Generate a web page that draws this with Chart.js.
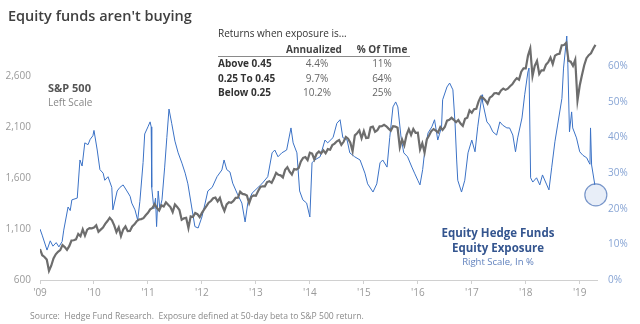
<!DOCTYPE html>
<html>
<head>
<meta charset="utf-8">
<script src="https://cdn.jsdelivr.net/npm/chart.js@4.4.1/dist/chart.umd.min.js"></script>
<style>
  html, body { margin: 0; padding: 0; background: #fff; }
  #wrap { position: relative; width: 640px; height: 324px; overflow: hidden; font-family: "Open Sans", sans-serif; }
  #c { position: absolute; left: 0; top: 0; }
  .t { position: absolute; white-space: nowrap; line-height: 13px; }
  .b { font-weight: 700; }
  .c { text-align: center; }
</style>
</head>
<body>
<div id="wrap">
  <canvas id="c" width="640" height="324"></canvas>

  <div class="t" style="left:8px;top:6px;font-size:14.5px;line-height:20px;font-weight:600;color:#404040">Equity funds aren't buying</div>

  <div class="t b" style="left:48px;top:81px;font-size:11px;color:#555">S&amp;P 500</div>
  <div class="t" style="left:48px;top:96px;font-size:10px;color:#888">Left Scale</div>

  <!-- returns table -->
  <div class="t" style="left:218px;top:27px;font-size:10px;color:#333">Returns when exposure is...</div>
  <div class="t b c" style="left:278px;width:72px;top:43px;font-size:10px;color:#444">Annualized</div>
  <div class="t b c" style="left:351px;width:62px;top:43px;font-size:10px;color:#444">% Of Time</div>
  <div style="position:absolute;left:218px;top:56px;width:192px;border-top:1px solid #8a8a8a"></div>
  <div id="tbl"></div>

  <div class="t b c" style="left:420px;width:156px;top:225px;font-size:11.5px;line-height:15px;color:#34558f">Equity Hedge Funds<br>Equity Exposure</div>
  <div class="t c" style="left:420px;width:156px;top:255px;font-size:9.5px;color:#5f80bd">Right Scale, In %</div>

  <div class="t" style="left:30px;top:311px;font-size:8.6px;line-height:11px;color:#8a8a8a">Source:&nbsp; Hedge Fund Research.&nbsp; Exposure defined at 50-day beta to S&amp;P 500 return.</div>
</div>

<script>
// returns table
const tblLabels = ['Above 0.45', '0.25 To 0.45', 'Below 0.25'];
const tblAnnual = ['4.4%', '9.7%', '10.2%'];
const tblTime   = ['11%', '64%', '25%'];

// S&P 500, twice a month (1st and 15th), starting Jan 2009
const spxStart = 2009;
const spx = [
  903, 843, 826, 800, 690, 740, 811, 852, 877, 893, 942, 923, 895, 932, 987, 990, 998, 1052, 1029, 1096, 1036, 1093, 1108, 1107, // 2009
  1115, 1136, 1073, 1094, 1115, 1150, 1178, 1211, 1186, 1135, 1070, 1115, 1030, 1095, 1125, 1079, 1080, 1125, 1146, 1176, 1193, 1197, 1206, 1235, // 2010
  1258, 1293, 1307, 1343, 1306, 1281, 1332, 1320, 1361, 1337, 1315, 1266, 1340, 1316, 1286, 1190, 1204, 1209, 1110, 1224, 1218, 1257, 1245, 1215, // 2011
  1258, 1293, 1324, 1358, 1374, 1402, 1408, 1370, 1405, 1330, 1278, 1342, 1362, 1357, 1375, 1405, 1406, 1465, 1444, 1440, 1428, 1353, 1416, 1430, // 2012
  1426, 1472, 1513, 1519, 1518, 1560, 1569, 1553, 1597, 1650, 1631, 1626, 1606, 1680, 1706, 1661, 1633, 1688, 1682, 1698, 1762, 1798, 1806, 1775, // 2013
  1848, 1840, 1782, 1838, 1859, 1841, 1872, 1842, 1883, 1877, 1924, 1937, 1960, 1973, 1925, 1955, 2003, 1985, 1946, 1862, 2018, 2039, 2067, 1990, // 2014
  2059, 1992, 1995, 2096, 2104, 2053, 2068, 2106, 2108, 2122, 2107, 2084, 2063, 2108, 2104, 2092, 1900, 1978, 1920, 2023, 2079, 2023, 2080, 2043, // 2015
  2044, 1880, 1940, 1850, 1978, 2016, 2060, 2080, 2065, 2047, 2099, 2071, 2100, 2162, 2170, 2190, 2170, 2147, 2168, 2133, 2111, 2180, 2191, 2262, // 2016
  2239, 2275, 2279, 2349, 2396, 2385, 2363, 2329, 2388, 2402, 2431, 2432, 2423, 2459, 2476, 2464, 2476, 2500, 2519, 2553, 2579, 2564, 2642, 2675, // 2017
  2674, 2800, 2870, 2600, 2700, 2748, 2620, 2656, 2655, 2711, 2735, 2780, 2718, 2800, 2813, 2818, 2901, 2904, 2925, 2750, 2740, 2700, 2760, 2360, // 2018
  2507, 2610, 2706, 2775, 2804, 2822, 2867, 2905                                                                                              // 2019
];

// equity hedge fund exposure, % : [decimal year, value]
const exposure = [
  [2009.00, 14.3], [2009.04, 12.6], [2009.13, 8.4], [2009.19, 11], [2009.24, 9.5], [2009.30, 10.5], [2009.35, 9.3],
  [2009.41, 10.8], [2009.44, 14], [2009.52, 20.5], [2009.56, 19.5], [2009.59, 22.5], [2009.69, 23], [2009.74, 33.7],
  [2009.78, 32], [2009.83, 38.5], [2009.89, 38], [2009.93, 39.5], [2009.98, 40.5], [2010.00, 42], [2010.06, 36.5],
  [2010.11, 31], [2010.17, 30], [2010.20, 28], [2010.26, 29], [2010.33, 26], [2010.35, 19.7], [2010.43, 25],
  [2010.48, 26], [2010.54, 26.7], [2010.61, 25], [2010.67, 23.5], [2010.70, 21.6], [2010.76, 19.7], [2010.81, 16.8],
  [2010.85, 22], [2010.91, 33], [2010.94, 41], [2011.00, 43], [2011.04, 44.4], [2011.06, 43], [2011.07, 26],
  [2011.11, 20], [2011.14, 23], [2011.16, 15], [2011.19, 25], [2011.22, 20], [2011.26, 22.5], [2011.31, 31.7],
  [2011.35, 40], [2011.39, 48], [2011.44, 44], [2011.50, 39], [2011.56, 35.7], [2011.63, 32.8], [2011.69, 30],
  [2011.74, 27], [2011.81, 20.5], [2011.87, 15], [2011.93, 14.6], [2012.00, 17.7], [2012.06, 21.6], [2012.11, 25],
  [2012.19, 26], [2012.28, 29], [2012.37, 30.9], [2012.41, 33.7], [2012.46, 31], [2012.52, 30.3], [2012.57, 27.2],
  [2012.65, 24.4], [2012.74, 21.6], [2012.80, 16.3], [2012.85, 21.6], [2012.93, 24.4], [2013.04, 26], [2013.11, 27],
  [2013.22, 29], [2013.30, 35.7], [2013.35, 36.5], [2013.41, 34.6], [2013.48, 35.7], [2013.57, 36.5], [2013.65, 42.7],
  [2013.69, 38.5], [2013.76, 35.7], [2013.81, 25], [2013.87, 22.5], [2013.94, 21.6], [2014.00, 17.7], [2014.04, 32.9],
  [2014.09, 33.7], [2014.19, 34.6], [2014.28, 39.3], [2014.33, 38.5], [2014.43, 40], [2014.50, 44], [2014.56, 45],
  [2014.61, 40], [2014.69, 39.3], [2014.74, 35.7], [2014.83, 34.6], [2014.93, 33.7], [2015.02, 30], [2015.07, 27],
  [2015.17, 24.7], [2015.24, 27], [2015.30, 32.9], [2015.35, 33.7], [2015.43, 31.7], [2015.48, 40], [2015.54, 48.6],
  [2015.59, 50], [2015.63, 48.6], [2015.69, 40], [2015.74, 35.7], [2015.81, 34.6], [2015.89, 31.7], [2015.94, 30],
  [2016.00, 28], [2016.04, 26.7], [2016.09, 31], [2016.13, 36.5], [2016.19, 41.3], [2016.26, 43], [2016.31, 45],
  [2016.37, 39.3], [2016.44, 43], [2016.46, 50.6], [2016.54, 54.2], [2016.59, 55.3], [2016.65, 53.4], [2016.69, 44],
  [2016.72, 33.7], [2016.74, 28], [2016.81, 24.7], [2016.87, 28], [2016.93, 35.7], [2017.00, 39.3], [2017.06, 36],
  [2017.11, 43], [2017.19, 52], [2017.20, 50], [2017.28, 44.4], [2017.33, 43.5], [2017.39, 41.6], [2017.46, 40.7],
  [2017.52, 44.4], [2017.57, 43.5], [2017.65, 42.7], [2017.70, 42.7], [2017.76, 40.7], [2017.81, 36], [2017.85, 39.9],
  [2017.93, 45.5], [2017.98, 52], [2018.04, 58.4], [2018.06, 59.5], [2018.09, 28.7], [2018.13, 27.5], [2018.20, 28.7],
  [2018.26, 26.7], [2018.31, 29.5], [2018.39, 26.7], [2018.43, 25.3], [2018.48, 31.5], [2018.54, 38.8], [2018.59, 43.5],
  [2018.67, 51], [2018.70, 59.5], [2018.76, 68.5], [2018.78, 60.4], [2018.81, 41.6], [2018.85, 47.2], [2018.87, 42.7],
  [2018.94, 39.9], [2019.00, 36], [2019.06, 35], [2019.13, 34.3], [2019.17, 33], [2019.19, 32.5], [2019.20, 42.7],
  [2019.22, 32.3], [2019.28, 26.7]
];

const xTicks = [2009, 2010, 2011, 2012, 2013, 2014, 2015, 2016, 2017, 2018, 2019];

// table rows
(function() {
  const rowsY = [57, 72, 86];
  let html = '';
  tblLabels.forEach((lab, i) => {
    html += '<div class="t b" style="left:218px;top:' + rowsY[i] + 'px;font-size:10px;color:#333">' + lab + '</div>';
    html += '<div class="t c" style="left:287px;width:60px;top:' + rowsY[i] + 'px;font-size:10px;color:#666">' + tblAnnual[i] + '</div>';
    html += '<div class="t c" style="left:352px;width:60px;top:' + rowsY[i] + 'px;font-size:10px;color:#666">' + tblTime[i] + '</div>';
  });
  document.getElementById('tbl').innerHTML = html;
})();

const spxPts = spx.map((v, i) => ({ x: spxStart + i / 24, y: v }));
const expPts = exposure.map(p => ({ x: p[0], y: p[1] }));

// light circle round the latest reading
const lastCircle = {
  id: 'lastCircle',
  beforeDatasetsDraw(chart) {
    const ctx = chart.ctx;
    const last = expPts[expPts.length - 1];
    const px = chart.scales.x.getPixelForValue(last.x);
    const py = chart.scales.y2.getPixelForValue(last.y);
    ctx.save();
    ctx.beginPath();
    ctx.arc(px + 1, py + 10, 11, 0, Math.PI * 2);
    ctx.fillStyle = '#e8eef8';
    ctx.fill();
    ctx.lineWidth = 1.2;
    ctx.strokeStyle = '#7795c9';
    ctx.stroke();
    ctx.restore();
  }
};

new Chart(document.getElementById('c'), {
  type: 'line',
  data: {
    datasets: [
      { label: 'S&P 500', data: spxPts, yAxisID: 'y', borderColor: '#6d6d6d', borderWidth: 2.2,
        pointRadius: 0, tension: 0, order: 0 },
      { label: 'Equity Exposure', data: expPts, yAxisID: 'y2', borderColor: '#3b72c6', borderWidth: 1,
        pointRadius: 0, tension: 0, order: 1 }
    ]
  },
  options: {
    responsive: false,
    animation: false,
    devicePixelRatio: 1,
    layout: { padding: { top: 25, left: 0, right: 0, bottom: 0 } },
    plugins: { legend: { display: false }, tooltip: { enabled: false } },
    scales: {
      x: {
        type: 'linear', min: 2009, max: 2019.32,
        afterBuildTicks: (s) => { s.ticks = xTicks.map(v => ({ value: v })); },
        afterFit: (s) => { s.height = 44; },
        grid: { display: true, drawOnChartArea: false, drawTicks: true, tickLength: 4, color: '#d0d0d0' },
        border: { color: '#d0d0d0' },
        ticks: { color: '#9a9a9a', font: { family: 'Open Sans', size: 10 }, padding: 3, maxRotation: 0, autoSkip: false,
                 callback: (v) => "'" + String(v).slice(2) }
      },
      y: {
        position: 'left', min: 600, max: 3100,
        afterFit: (s) => { s.width = 40; },
        grid: { display: false, drawTicks: false }, border: { display: false },
        ticks: { stepSize: 500, color: '#9a9a9a', font: { family: 'Open Sans', size: 10 }, padding: 9,
                 callback: (v) => v >= 3100 ? null : v.toLocaleString('en-US') }
      },
      y2: {
        position: 'right', min: 0, max: 71.6,
        afterFit: (s) => { s.width = 43; },
        grid: { display: false, drawTicks: false }, border: { display: false },
        ticks: { stepSize: 10, color: '#87a4d4', font: { family: 'Open Sans', size: 10 }, padding: 11,
                 callback: (v) => v > 70.5 ? null : v + '%' }
      }
    }
  },
  plugins: [lastCircle]
});
</script>
</body>
</html>
